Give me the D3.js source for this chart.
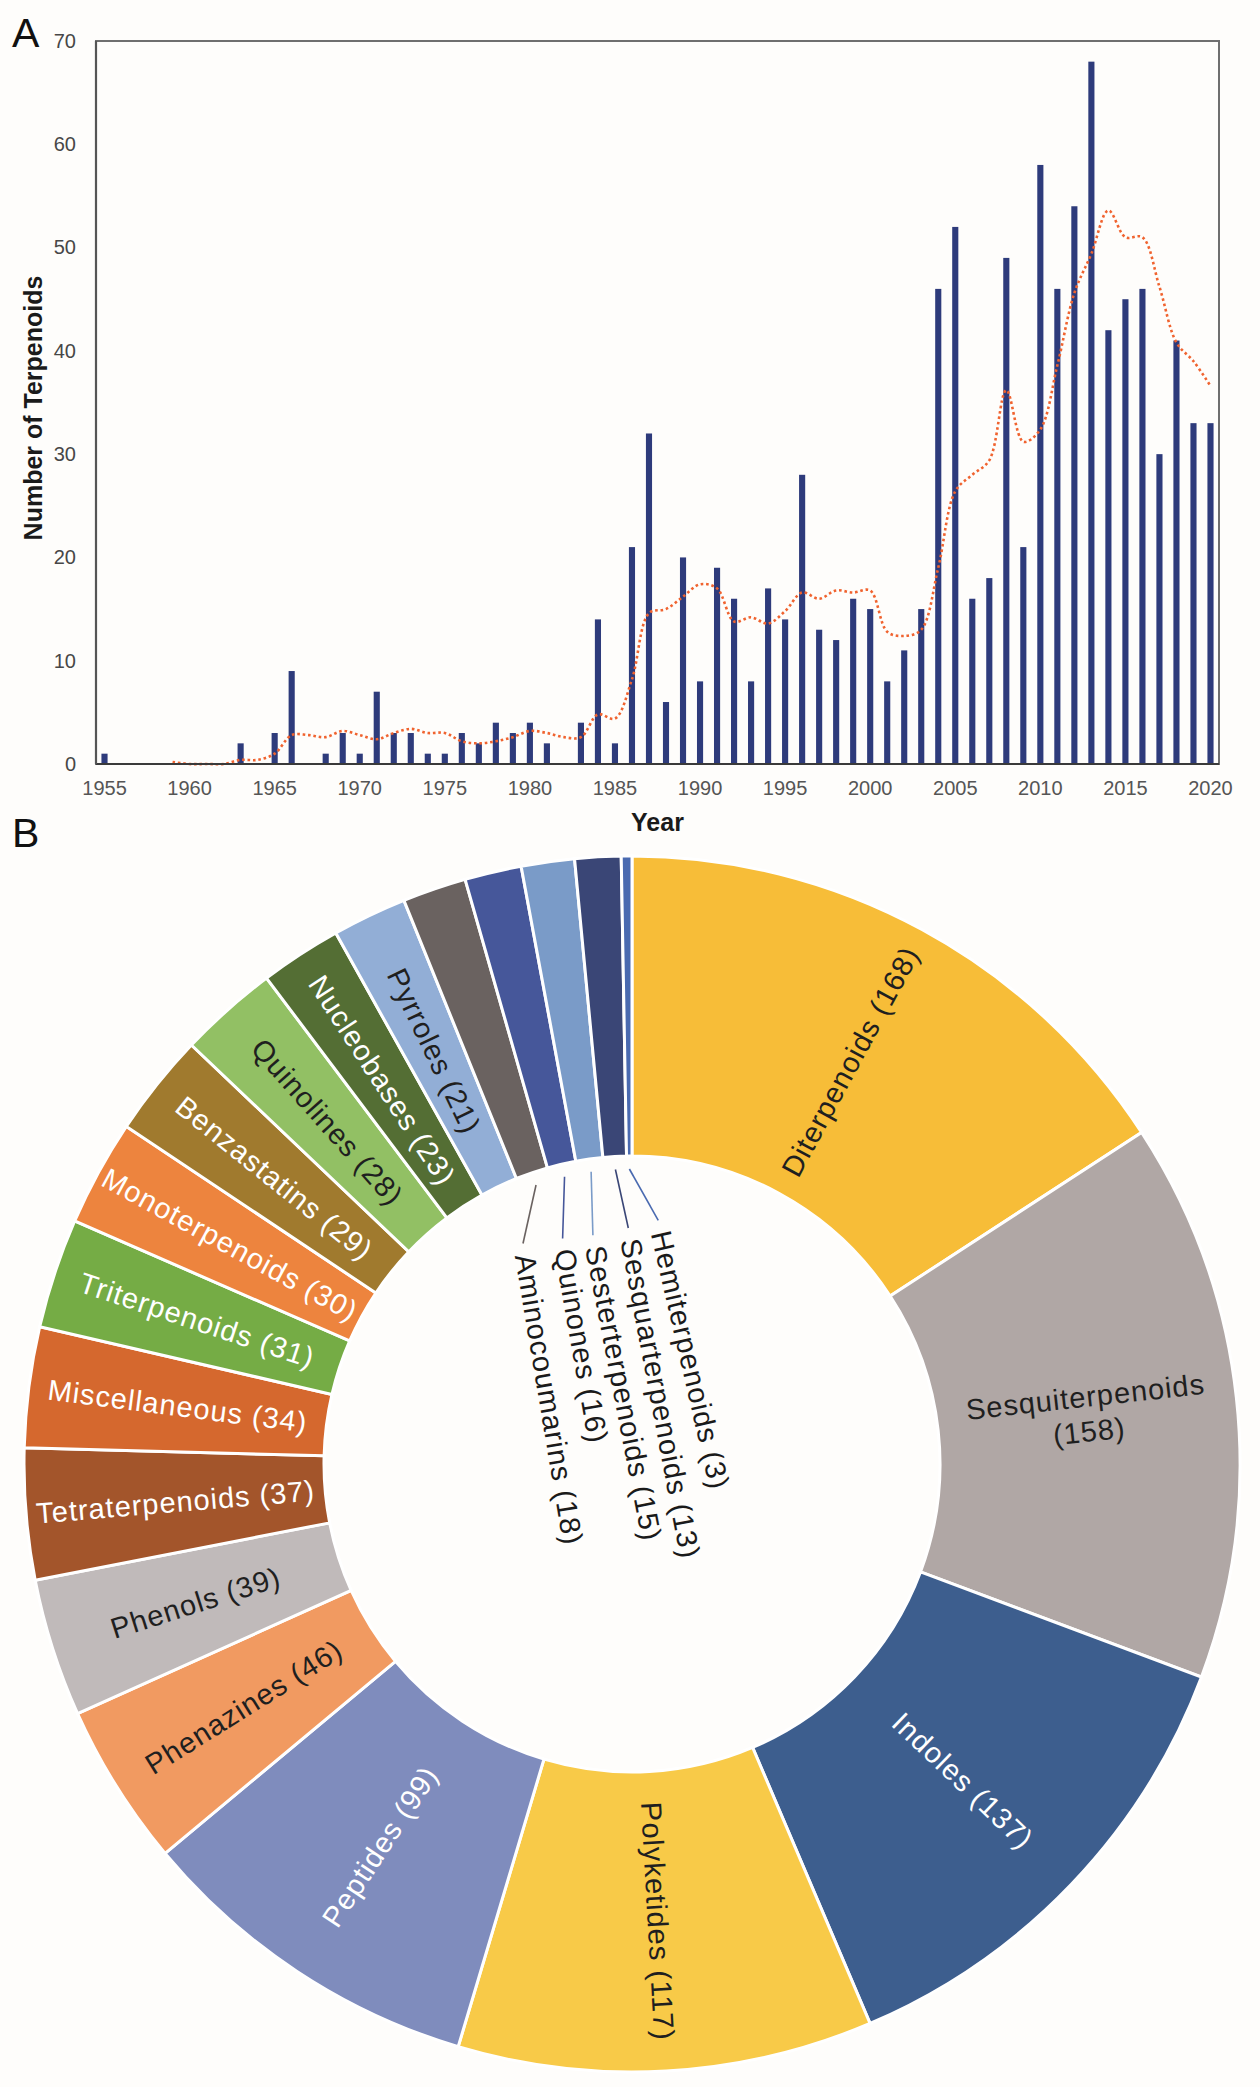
<!DOCTYPE html>
<html><head><meta charset="utf-8">
<script src="https://cdn.jsdelivr.net/npm/d3@7"></script>
<style>
html,body{margin:0;padding:0;background:#fefdfb;}
svg{display:block;font-family:"Liberation Sans",Arial,Helvetica,sans-serif;}
</style></head><body>
<svg id="chart" width="1260" height="2087"></svg>
<script>
// ---------- Panel A data ----------
const years = [1955,1956,1957,1958,1959,1960,1961,1962,1963,1964,
  1965,1966,1967,1968,1969,1970,1971,1972,1973,1974,
  1975,1976,1977,1978,1979,1980,1981,1982,1983,1984,
  1985,1986,1987,1988,1989,1990,1991,1992,1993,1994,
  1995,1996,1997,1998,1999,2000,2001,2002,2003,2004,
  2005,2006,2007,2008,2009,2010,2011,2012,2013,2014,
  2015,2016,2017,2018,2019,2020];
const counts = [1,0,0,0,0,0,0,0,2,0,
  3,9,0,1,3,1,7,3,3,1,
  1,3,2,4,3,4,2,0,4,14,
  2,21,32,6,20,8,19,16,8,17,
  14,28,13,12,16,15,8,11,15,46,
  52,16,18,49,21,58,46,54,68,42,
  45,46,30,41,33,33];
const trendYears = [1959,1960,1961,1962,1963,1964,
  1965,1966,1967,1968,1969,1970,1971,1972,1973,1974,
  1975,1976,1977,1978,1979,1980,1981,1982,1983,1984,
  1985,1986,1987,1988,1989,1990,1991,1992,1993,1994,
  1995,1996,1997,1998,1999,2000,2001,2002,2003,2004,
  2005,2006,2007,2008,2009,2010,2011,2012,2013,2014,
  2015,2016,2017,2018,2019,2020];
const trendValues = [0.2,0,0,0,0.4,0.4,
  1.0,2.8,2.8,2.6,3.2,2.8,2.4,3.0,3.4,3.0,
  3.0,2.2,2.0,2.2,2.6,3.2,3.0,2.6,2.6,4.8,
  4.4,8.2,14.6,15.0,16.2,17.4,17.0,13.8,14.2,13.6,
  14.8,16.6,16.0,16.8,16.6,16.8,12.8,12.4,13.0,19.0,
  26.4,28.0,29.4,36.2,31.2,32.4,38.6,45.6,49.4,53.6,
  51.0,51.0,46.2,40.8,39.0,36.6];
const yTicks = [0,10,20,30,40,50,60,70];
const xTickYears = [1955,1960,1965,1970,1975,1980,1985,1990,1995,2000,2005,2010,2015,2020];

// ---------- Panel B data ----------
const classes = ["Diterpenoids","Sesquiterpenoids","Indoles","Polyketides","Peptides",
  "Phenazines","Phenols","Tetraterpenoids","Miscellaneous","Triterpenoids",
  "Monoterpenoids","Benzastatins","Quinolines","Nucleobases","Pyrroles",
  "Aminocoumarins","Quinones","Sesterterpenoids","Sesquarterpenoids","Hemiterpenoids"];
const classCounts = [168,158,137,117,99,46,39,37,34,31,30,29,28,23,21,18,16,15,13,3];

// ---------- styles / layout ----------
const classColors = ["#F7BD38","#B0A7A5","#3D5E8E","#F8CA48","#7F8CBD",
  "#F19A61","#C0BABA","#A3552B","#D5682E","#75AC45",
  "#ED843E","#A07A2E","#92C064","#546E34","#92AED6",
  "#6A6260","#46579A","#7A9BC8","#3A4676","#4A6AB0"];
const whiteText = new Set(["Indoles","Peptides","Tetraterpenoids","Miscellaneous","Triterpenoids",
  "Monoterpenoids","Benzastatins","Nucleobases"]);
const twoLine = new Set(["Sesquiterpenoids"]);
const holeLayout = {
  "Aminocoumarins":   {r:246, a:333.7, rot:80.5},
  "Quinones":         {r:236, a:342.9, rot:80},
  "Sesterterpenoids": {r:232, a:350.3, rot:79},
  "Sesquarterpenoids":{r:236, a:359.1, rot:79.3},
  "Hemiterpenoids":   {r:245, a:6.15,  rot:77}
};

const svg = d3.select("#chart");
svg.append("rect").attr("width",1260).attr("height",2087).attr("fill","#fefdfb");

// ================= Panel A =================
const L = 96, R = 1219, T = 41, B = 764;
const x = d3.scaleBand().domain(years).range([L, R]).padding(0);
const y = d3.scaleLinear().domain([0, 70]).range([B, T]);
const gA = svg.append("g");

const barW = x.bandwidth() * 0.36;
gA.selectAll("rect.bar").data(years.map((yr,i)=>({yr, v:counts[i]})).filter(d=>d.v>0))
  .join("rect").attr("class","bar")
  .attr("x", d => x(d.yr) + (x.bandwidth()-barW)/2)
  .attr("width", barW)
  .attr("y", d => y(d.v))
  .attr("height", d => y(0) - y(d.v))
  .attr("fill", "#2E3B7B");

const line = d3.line()
  .x((d,i) => x(trendYears[i]) + x.bandwidth()/2)
  .y(d => y(d))
  .curve(d3.curveCatmullRom.alpha(0.5));
gA.append("path").attr("d", line(trendValues))
  .attr("fill","none").attr("stroke","#F0632F").attr("stroke-width",2.6)
  .attr("stroke-dasharray","2.6,2.8");

// frame
gA.append("rect").attr("x",L).attr("y",T).attr("width",R-L).attr("height",B-T)
  .attr("fill","none").attr("stroke","#6f6f6f").attr("stroke-width",2);
gA.append("line").attr("x1",L).attr("x2",R).attr("y1",B).attr("y2",B)
  .attr("stroke","#3a3a3a").attr("stroke-width",2.2);
gA.append("line").attr("x1",L).attr("x2",L).attr("y1",T).attr("y2",B)
  .attr("stroke","#555").attr("stroke-width",2.2);

const yAxis = gA.append("g").attr("transform",`translate(${L},0)`)
  .call(d3.axisLeft(y).tickValues(yTicks).tickSize(0).tickPadding(20));
yAxis.select(".domain").remove();
yAxis.selectAll("text").attr("font-size",20).attr("fill","#474747")
  .attr("font-family",'"Liberation Sans",Arial,sans-serif');

const xAxis = gA.append("g").attr("transform",`translate(0,${B})`)
  .call(d3.axisBottom(x).tickValues(xTickYears).tickSize(0).tickPadding(17));
xAxis.select(".domain").remove();
xAxis.selectAll("text").attr("font-size",20).attr("fill","#555")
  .attr("font-family",'"Liberation Sans",Arial,sans-serif');

gA.append("text").attr("transform",`translate(42,408) rotate(-90)`)
  .attr("text-anchor","middle").attr("font-weight","bold").attr("font-size",25)
  .attr("fill","#1a1a1a").text("Number of Terpenoids");
gA.append("text").attr("x",(L+R)/2).attr("y",831)
  .attr("text-anchor","middle").attr("font-weight","bold").attr("font-size",25)
  .attr("fill","#1a1a1a").text("Year");

svg.append("text").attr("x",12).attr("y",47).attr("font-size",41).attr("fill","#111").text("A");
svg.append("text").attr("x",12).attr("y",847).attr("font-size",41).attr("fill","#111").text("B");

// ================= Panel B =================
const cx = 632, cy = 1464, rIn = 308, rOut = 608;
const gB = svg.append("g").attr("transform",`translate(${cx},${cy})`);
const pie = d3.pie().sort(null).value(d => d).startAngle(0).endAngle(2*Math.PI);
const arcs = pie(classCounts);
const arc = d3.arc().innerRadius(rIn).outerRadius(rOut);

gB.selectAll("path.slice").data(arcs).join("path").attr("class","slice")
  .attr("d", arc)
  .attr("fill", d => classColors[d.index])
  .attr("stroke", "#ffffff").attr("stroke-width", 3).attr("stroke-linejoin","miter");

const toXY = (r, deg) => [r*Math.sin(deg*Math.PI/180), -r*Math.cos(deg*Math.PI/180)];
const fontSize = 29, ls = 1;

arcs.forEach(d => {
  const name = classes[d.index];
  const label = `${name} (${classCounts[d.index]})`;
  const mid = (d.startAngle + d.endAngle) / 2 * 180 / Math.PI;
  if (holeLayout[name]) {
    const H = holeLayout[name];
    const [x1,y1] = toXY(295, mid);
    const [x2,y2] = toXY(H.r, H.a);
    gB.append("line").attr("x1",x1).attr("y1",y1).attr("x2",x2).attr("y2",y2)
      .attr("stroke", classColors[d.index]).attr("stroke-width",1.6);
    gB.append("text").attr("transform",`translate(${x2},${y2}) rotate(${H.rot})`)
      .attr("x", 11).attr("dy","0.35em")
      .attr("font-size",fontSize).attr("letter-spacing",ls).attr("fill","#1a1a1a")
      .text(label);
  } else {
    const [px,py] = arc.centroid(d);
    const rot = mid < 180 ? mid - 90 : mid - 270;
    const t = gB.append("text").attr("transform",`translate(${px},${py}) rotate(${rot})`)
      .attr("text-anchor","middle")
      .attr("font-size",fontSize).attr("letter-spacing",ls)
      .attr("fill", whiteText.has(name) ? "#ffffff" : "#1f1f1f");
    if (twoLine.has(name)) {
      t.append("tspan").attr("x",0).attr("dy","-0.25em").text(name);
      t.append("tspan").attr("x",0).attr("dy","1.2em").text(`(${classCounts[d.index]})`);
    } else {
      t.attr("dy","0.35em").text(label);
    }
  }
});
</script>
</body></html>
